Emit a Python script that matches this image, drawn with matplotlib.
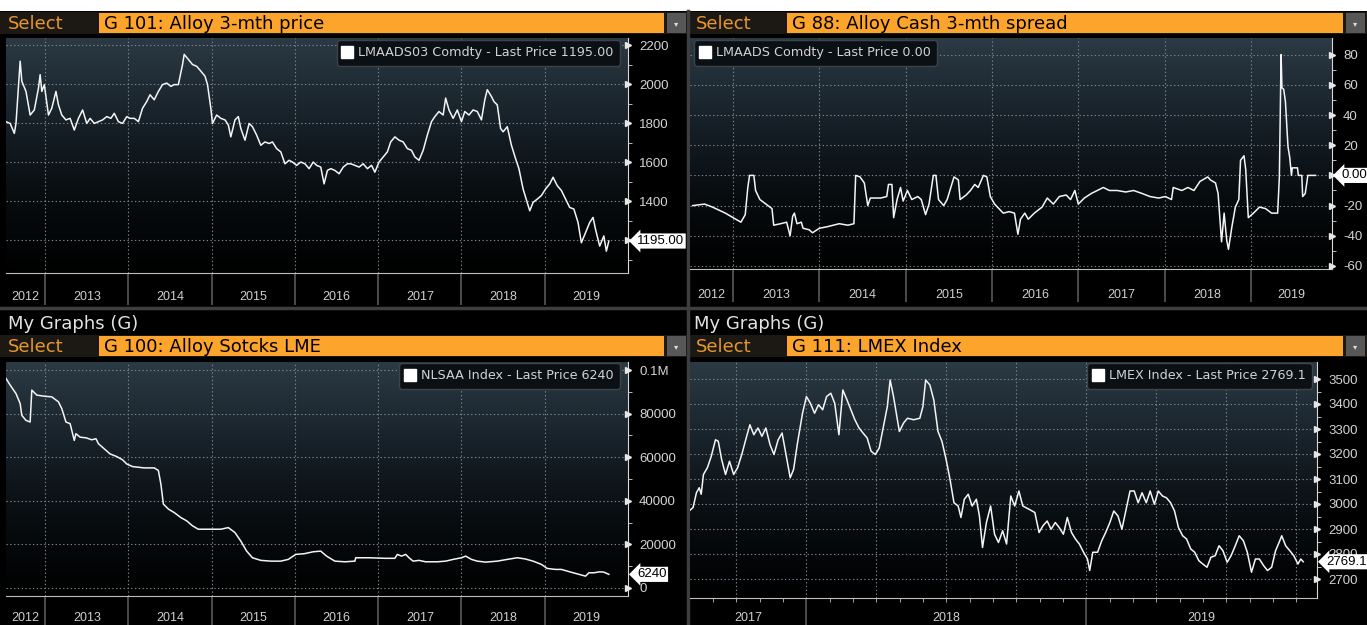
import numpy as np
import matplotlib.pyplot as plt
from matplotlib.colors import LinearSegmentedColormap
from matplotlib.lines import Line2D
from matplotlib.patches import Rectangle

# ---- G 101: Alloy 3-mth price (LMAADS03 Comdty) ----
alloy_t = [2012.53, 2012.58, 2012.63, 2012.65, 2012.70, 2012.72, 2012.77, 2012.82, 2012.87, 2012.92,
           2012.94, 2012.96, 2012.99, 2013.04, 2013.08, 2013.13, 2013.16, 2013.20, 2013.25, 2013.30,
           2013.35, 2013.40, 2013.45, 2013.50, 2013.54, 2013.59, 2013.64, 2013.69, 2013.74, 2013.79,
           2013.83, 2013.88, 2013.93, 2013.98, 2014.02, 2014.07, 2014.12, 2014.17, 2014.22, 2014.26,
           2014.31, 2014.36, 2014.41, 2014.46, 2014.51, 2014.55, 2014.60, 2014.65, 2014.67, 2014.72,
           2014.77, 2014.82, 2014.87, 2014.92, 2014.95, 2014.99, 2015.01, 2015.06, 2015.11, 2015.16,
           2015.20, 2015.23, 2015.28, 2015.32, 2015.35, 2015.40, 2015.45, 2015.49, 2015.54, 2015.59,
           2015.64, 2015.69, 2015.73, 2015.78, 2015.83, 2015.88, 2015.93, 2015.97, 2016.02, 2016.07,
           2016.12, 2016.17, 2016.22, 2016.26, 2016.31, 2016.35, 2016.39, 2016.43, 2016.48, 2016.53,
           2016.58, 2016.63, 2016.67, 2016.72, 2016.77, 2016.82, 2016.87, 2016.92, 2016.96, 2017.01,
           2017.06, 2017.11, 2017.15, 2017.20, 2017.25, 2017.30, 2017.35, 2017.40, 2017.44, 2017.49,
           2017.54, 2017.59, 2017.64, 2017.68, 2017.73, 2017.78, 2017.81, 2017.85, 2017.90, 2017.95,
           2018.00, 2018.04, 2018.09, 2018.14, 2018.19, 2018.24, 2018.28, 2018.31, 2018.36, 2018.39,
           2018.43, 2018.47, 2018.50, 2018.55, 2018.60, 2018.65, 2018.69, 2018.74, 2018.79, 2018.82,
           2018.86, 2018.91, 2018.96, 2019.01, 2019.06, 2019.10, 2019.15, 2019.20, 2019.25, 2019.30,
           2019.35, 2019.40, 2019.44, 2019.49, 2019.54, 2019.58, 2019.61, 2019.66, 2019.71, 2019.74,
           2019.77]
alloy_px = [1807, 1798, 1747, 1798, 2117, 2014, 1962, 1841, 1867, 1979,
            2048, 1962, 1997, 1841, 1876, 1962, 1893, 1841, 1816, 1824,
            1764, 1824, 1867, 1798, 1824, 1798, 1807, 1816, 1833, 1824,
            1850, 1807, 1798, 1833, 1824, 1824, 1807, 1876, 1910, 1945,
            1919, 1962, 1997, 2005, 1988, 1997, 1997, 2100, 2152, 2126,
            2100, 2091, 2066, 2040, 1997, 1876, 1798, 1841, 1824, 1816,
            1790, 1729, 1816, 1833, 1772, 1712, 1798, 1781, 1738, 1686,
            1703, 1695, 1703, 1669, 1652, 1591, 1609, 1600, 1583, 1600,
            1591, 1566, 1600, 1583, 1574, 1488, 1557, 1566, 1557, 1540,
            1574, 1591, 1591, 1583, 1574, 1591, 1566, 1583, 1548, 1600,
            1626, 1652, 1703, 1729, 1712, 1703, 1669, 1660, 1626, 1609,
            1660, 1738, 1807, 1833, 1859, 1841, 1928, 1867, 1824, 1867,
            1807, 1859, 1841, 1867, 1859, 1816, 1919, 1971, 1936, 1910,
            1893, 1772, 1755, 1781, 1686, 1617, 1566, 1462, 1393, 1350,
            1393, 1410, 1428, 1462, 1488, 1522, 1479, 1454, 1410, 1367,
            1359, 1290, 1186, 1238, 1290, 1316, 1255, 1169, 1221, 1143,
            1195]

# ---- G 88: Alloy Cash 3-mth spread (LMAADS Comdty) ----
spread_t = [2012.53, 2012.67, 2012.76, 2012.91, 2013.00, 2013.09, 2013.14, 2013.17, 2013.19, 2013.24,
            2013.26, 2013.31, 2013.38, 2013.45, 2013.47, 2013.55, 2013.62, 2013.66, 2013.69, 2013.71,
            2013.74, 2013.79, 2013.81, 2013.88, 2013.92, 2014.00, 2014.09, 2014.16, 2014.23, 2014.33,
            2014.40, 2014.42, 2014.47, 2014.52, 2014.56, 2014.59, 2014.71, 2014.78, 2014.80, 2014.84,
            2014.86, 2014.90, 2014.94, 2014.97, 2015.02, 2015.07, 2015.14, 2015.18, 2015.23, 2015.27,
            2015.32, 2015.35, 2015.38, 2015.44, 2015.48, 2015.56, 2015.61, 2015.63, 2015.70, 2015.75,
            2015.80, 2015.84, 2015.90, 2015.94, 2015.98, 2016.03, 2016.13, 2016.20, 2016.26, 2016.30,
            2016.33, 2016.38, 2016.42, 2016.49, 2016.58, 2016.64, 2016.71, 2016.78, 2016.86, 2016.91,
            2016.96, 2017.00, 2017.07, 2017.15, 2017.22, 2017.29, 2017.36, 2017.45, 2017.55, 2017.64,
            2017.74, 2017.83, 2017.93, 2018.01, 2018.08, 2018.10, 2018.20, 2018.27, 2018.34, 2018.41,
            2018.50, 2018.53, 2018.59, 2018.62, 2018.66, 2018.69, 2018.72, 2018.74, 2018.78, 2018.82,
            2018.86, 2018.88, 2018.92, 2018.94, 2018.97, 2019.03, 2019.10, 2019.17, 2019.24, 2019.31,
            2019.33, 2019.35, 2019.36, 2019.38, 2019.40, 2019.43, 2019.45, 2019.47, 2019.48, 2019.54,
            2019.55, 2019.59, 2019.60, 2019.63, 2019.66, 2019.75]
spread_v = [-20, -19, -21, -25, -28, -31, -26, -8, 0, 0,
            -10, -16, -19, -22, -33, -32, -31, -40, -27, -25,
            -32, -31, -35, -36, -38, -35, -34, -33, -32, -33,
            -32, 0, -1, -5, -20, -15, -15, -14, -6, -6,
            -28, -16, -8, -17, -10, -16, -14, -16, -26, -19,
            0, 0, -16, -20, -16, -1, -3, -16, -13, -10,
            -6, -8, 0, -1, -14, -19, -25, -24, -25, -39,
            -29, -25, -29, -25, -21, -15, -19, -14, -13, -16,
            -10, -19, -15, -12, -10, -8, -10, -10, -11, -10,
            -12, -14, -15, -14, -16, -8, -10, -8, -10, -4,
            -1, -3, -5, -12, -44, -25, -43, -49, -34, -21,
            -16, 10, 13, 4, -28, -25, -21, -22, -25, -25,
            -1, 80, 58, 57, 49, 19, 12, 0, 5, 5,
            0, 0, -14, -12, 0, 0]

# ---- G 100: Alloy stocks LME (NLSAA Index) ----
stocks_t = [2012.53, 2012.58, 2012.65, 2012.70, 2012.72, 2012.77, 2012.82, 2012.84, 2012.90, 2012.99,
            2013.08, 2013.16, 2013.20, 2013.25, 2013.30, 2013.35, 2013.37, 2013.42, 2013.49, 2013.56,
            2013.61, 2013.64, 2013.71, 2013.78, 2013.86, 2013.93, 2013.98, 2014.05, 2014.19, 2014.31,
            2014.36, 2014.39, 2014.42, 2014.48, 2014.55, 2014.63, 2014.70, 2014.77, 2014.84, 2014.96,
            2015.11, 2015.20, 2015.28, 2015.35, 2015.42, 2015.49, 2015.59, 2015.71, 2015.83, 2015.92,
            2016.01, 2016.11, 2016.22, 2016.31, 2016.38, 2016.48, 2016.60, 2016.72, 2016.73, 2016.89,
            2017.08, 2017.20, 2017.23, 2017.28, 2017.33, 2017.37, 2017.42, 2017.49, 2017.57, 2017.71,
            2017.81, 2017.90, 2018.00, 2018.05, 2018.12, 2018.19, 2018.29, 2018.43, 2018.55, 2018.67,
            2018.76, 2018.86, 2018.96, 2019.03, 2019.13, 2019.20, 2019.30, 2019.42, 2019.49, 2019.53,
            2019.59, 2019.66, 2019.71, 2019.77]
stocks_v = [96150, 93100, 89200, 84600, 79200, 76900, 76150, 90800, 88500, 88000,
            87700, 85400, 82300, 76150, 75400, 67700, 70800, 69200, 68900, 68000,
            68500, 66200, 63850, 61500, 60300, 58800, 56900, 55700, 55100, 55100,
            53900, 47700, 38500, 36200, 34600, 32300, 30800, 28500, 26950, 26950,
            26950, 27700, 25400, 21500, 16900, 13850, 12650, 12300, 12300, 13100,
            15400, 15700, 16600, 16900, 14600, 12300, 12000, 12300, 13850, 13850,
            13600, 13600, 15400, 14600, 15400, 13850, 12300, 12650, 12000, 12000,
            12300, 13100, 13850, 14600, 13100, 12300, 11850, 12300, 13100, 13850,
            13350, 12300, 10800, 8950, 8500, 8500, 7400, 6150, 5400, 6950,
            6950, 7400, 7250, 6240]

# ---- G 111: LMEX Index ----
lmex_t = [2017.581, 2017.595, 2017.607, 2017.617, 2017.624, 2017.632, 2017.646, 2017.660, 2017.675, 2017.685,
          2017.697, 2017.711, 2017.725, 2017.740, 2017.754, 2017.769, 2017.783, 2017.798, 2017.812, 2017.827,
          2017.841, 2017.855, 2017.870, 2017.884, 2017.899, 2017.913, 2017.928, 2017.942, 2017.954, 2017.968,
          2017.986, 2018.000, 2018.014, 2018.029, 2018.043, 2018.058, 2018.072, 2018.087, 2018.101, 2018.116,
          2018.130, 2018.145, 2018.159, 2018.173, 2018.188, 2018.202, 2018.217, 2018.231, 2018.246, 2018.260,
          2018.275, 2018.289, 2018.299, 2018.311, 2018.325, 2018.332, 2018.347, 2018.361, 2018.383, 2018.405,
          2018.416, 2018.426, 2018.441, 2018.455, 2018.470, 2018.484, 2018.499, 2018.513, 2018.527, 2018.542,
          2018.552, 2018.564, 2018.578, 2018.592, 2018.607, 2018.618, 2018.629, 2018.643, 2018.658, 2018.672,
          2018.686, 2018.701, 2018.715, 2018.730, 2018.744, 2018.759, 2018.773, 2018.795, 2018.816, 2018.831,
          2018.845, 2018.860, 2018.874, 2018.889, 2018.903, 2018.918, 2018.932, 2018.947, 2018.961, 2018.975,
          2018.990, 2019.004, 2019.012, 2019.023, 2019.040, 2019.055, 2019.069, 2019.084, 2019.098, 2019.113,
          2019.127, 2019.142, 2019.156, 2019.171, 2019.185, 2019.199, 2019.214, 2019.228, 2019.243, 2019.257,
          2019.272, 2019.286, 2019.301, 2019.315, 2019.329, 2019.344, 2019.358, 2019.373, 2019.387, 2019.402,
          2019.416, 2019.431, 2019.445, 2019.460, 2019.474, 2019.488, 2019.503, 2019.517, 2019.532, 2019.546,
          2019.561, 2019.575, 2019.590, 2019.604, 2019.618, 2019.633, 2019.647, 2019.662, 2019.676, 2019.691,
          2019.698, 2019.712, 2019.727, 2019.741, 2019.756, 2019.766, 2019.775]
lmex_v = [2972, 2986, 3045, 3065, 3039, 3118, 3145, 3191, 3257, 3251,
          3178, 3118, 3171, 3118, 3145, 3198, 3257, 3317, 3277, 3304,
          3271, 3304, 3237, 3198, 3257, 3284, 3191, 3105, 3138, 3244,
          3363, 3430, 3403, 3363, 3397, 3377, 3430, 3443, 3403, 3277,
          3456, 3416, 3377, 3337, 3304, 3284, 3264, 3211, 3198, 3224,
          3310, 3390, 3496, 3430, 3337, 3290, 3324, 3343, 3337, 3343,
          3390, 3496, 3476, 3416, 3290, 3251, 3178, 3098, 3005, 2992,
          2946, 3019, 3039, 2992, 3019, 2952, 2826, 2926, 2992, 2879,
          2846, 2893, 2840, 3032, 2992, 3052, 2992, 2979, 2966, 2886,
          2913, 2932, 2899, 2926, 2906, 2879, 2946, 2886, 2860, 2840,
          2807, 2780, 2734, 2807, 2807, 2853, 2886, 2926, 2972, 2952,
          2899, 2979, 3052, 3052, 3005, 3045, 3005, 3052, 2999, 3052,
          3032, 3025, 3005, 2972, 2906, 2873, 2860, 2820, 2807, 2773,
          2760, 2747, 2787, 2793, 2833, 2813, 2767, 2793, 2833, 2873,
          2853, 2807, 2727, 2780, 2780, 2754, 2734, 2747, 2813, 2853,
          2873, 2833, 2813, 2793, 2760, 2780, 2769]

W, H = 1367, 625
ORANGE = "#fca42c"
ORANGE_TXT = "#e8962e"
GRID = "#7d868c"
BG_CMAP = LinearSegmentedColormap.from_list("bbg", ["#000000", "#080d10", "#18222a", "#2b3a44"])

plt.rcParams["font.family"] = ["DejaVu Sans"]

fig = plt.figure(figsize=(W / 100, H / 100), dpi=100, facecolor="black")

bg = fig.add_axes([0, 0, 1, 1], zorder=0)
bg.set_xlim(0, W)
bg.set_ylim(H, 0)
bg.axis("off")

# white strip on top and panel separators
bg.add_patch(Rectangle((0, 0), W, 11, fc="white", ec="none"))
bg.plot([688, 688], [11, H], color="#3e3e3e", lw=2.5)
bg.plot([0, W], [308, 308], color="#3e3e3e", lw=2.5)


def header(x0, x1, y0, y1, title):
    bg.add_patch(Rectangle((x0, y0), x1 - x0, y1 - y0, fc="#1c1915", ec="none"))
    bg.text(x0 + 8, y1 - 5, "Select", color=ORANGE_TXT, fontsize=13, va="baseline")
    bg.add_patch(Rectangle((x0 + 99, y0 + 1), x1 - x0 - 123, y1 - y0 - 2, fc=ORANGE, ec="none"))
    bg.text(x0 + 104, y1 - 5, title, color="black", fontsize=13, va="baseline")
    bg.add_patch(Rectangle((x1 - 21, y0 + 1), 19, y1 - y0 - 2, fc="#575757", ec="none"))
    bg.text(x1 - 11.5, (y0 + y1) / 2 + 1, "\u25be", color="#dddddd", fontsize=6,
            ha="center", va="center")


header(0, 688, 12, 34, "G 101: Alloy 3-mth price")
header(688, W, 12, 34, "G 88: Alloy Cash 3-mth spread")
bg.text(8, 329, "My Graphs (G)", color="#e4e4e4", fontsize=13, va="baseline")
bg.text(694, 329, "My Graphs (G)", color="#e4e4e4", fontsize=13, va="baseline")
header(0, 688, 335, 357, "G 100: Alloy Sotcks LME")
header(688, W, 335, 357, "G 111: LMEX Index")


def panel(box, t, v, xlim, ylim, yticks, ylabels, yminor, gridx, seps, years,
          last_txt, legend_txt, legend_loc, legend_anchor, sep_len, lab_off, months=None):
    x0, y0, x1, y1 = box
    ax = fig.add_axes([x0 / W, 1 - y1 / H, (x1 - x0) / W, (y1 - y0) / H], zorder=2)
    ax.set_facecolor("black")
    ax.imshow(np.linspace(0, 1, 256).reshape(-1, 1), cmap=BG_CMAP, origin="lower",
              extent=[0, 1, 0, 1], transform=ax.transAxes, aspect="auto", zorder=0)
    for g in gridx:
        ax.axvline(g, color=GRID, lw=0.8, ls=(0, (1.2, 2.2)), zorder=1)
    for g in yticks:
        ax.axhline(g, color=GRID, lw=0.8, ls=(0, (1.2, 2.2)), zorder=1)
    ax.plot(t, v, color="#f4f4f4", lw=1.1, zorder=3)
    ax.set_xlim(*xlim)
    ax.set_ylim(*ylim)

    for s in ("top", "left"):
        ax.spines[s].set_visible(False)
    ax.spines["right"].set_color("#d8d8d8")
    ax.spines["bottom"].set_color("#bdbdbd")

    # right value axis with pointer ticks
    ax.yaxis.tick_right()
    ax.set_yticks(yticks)
    ax.set_yticklabels(ylabels)
    ax.set_yticks(yminor, minor=True)
    ax.tick_params(axis="y", which="major", length=0, pad=8, labelcolor="#d4d4d4",
                   labelsize=9.5)
    ax.tick_params(axis="y", which="minor", length=3, color="#d8d8d8", direction="out")
    for lab in ax.get_yticklabels():
        lab.set_family("Liberation Sans")
    ax.plot(np.ones(len(yticks)), yticks, ls="none", marker=">", ms=5, color="#e6e6e6",
            transform=ax.get_yaxis_transform(), clip_on=False, zorder=5)

    # time axis: year separators and centred year labels
    ax.set_xticks(seps)
    ax.set_xticklabels([])
    ax.tick_params(axis="x", which="major", length=sep_len, width=1.2, color="#585858",
                   direction="out")
    if months is not None:
        ax.set_xticks(months, minor=True)
        ax.tick_params(axis="x", which="minor", length=3, color="#bdbdbd", direction="out")
    for yr in years:
        c = (max(yr, xlim[0]) + min(yr + 1, xlim[1])) / 2
        ax.annotate(str(yr), xy=(c, 0), xycoords=("data", "axes fraction"),
                    xytext=(0, -lab_off), textcoords="offset points", ha="center",
                    va="center", color="#cfcfcf", fontsize=9, family="Liberation Sans")

    # last price tag
    ax.text(1 + 9 / (x1 - x0), v[-1], last_txt, transform=ax.get_yaxis_transform(),
            color="black", fontsize=9.5, family="Liberation Sans", va="center", ha="left",
            bbox=dict(boxstyle="larrow,pad=0.12", fc="white", ec="none"),
            zorder=6, clip_on=False)

    handle = Line2D([], [], ls="none", marker="s", ms=8.5, color="white")
    leg = ax.legend([handle], [legend_txt], loc=legend_loc, bbox_to_anchor=legend_anchor,
                    borderaxespad=0, frameon=True, facecolor="#0b1014", edgecolor="#3c444a",
                    framealpha=1, labelcolor="#d2d2d2", fontsize=9.2, handlelength=0.7,
                    handletextpad=0.5, borderpad=0.5, fancybox=True)
    leg.set_zorder(7)
    return ax


top_years = list(range(2012, 2020))
year_seps = list(range(2013, 2020))

panel((6, 38, 628, 273), alloy_t, alloy_px, (2012.53, 2020.0), (1031, 2236),
      [1200, 1400, 1600, 1800, 2000, 2200], ["", "1400", "1600", "1800", "2000", "2200"],
      [1100, 1300, 1500, 1700, 1900, 2100], year_seps, year_seps, top_years,
      "1195.00", "LMAADS03 Comdty - Last Price 1195.00", "upper right",
      (1 - 8 / 622, 1 - 2 / 235), 23, 17.5)

panel((690, 38, 1332, 269), spread_t, spread_v, (2012.5, 2019.94), (-62, 91),
      [-60, -40, -20, 0, 20, 40, 60, 80], ["-60", "-40", "-20", "", "20", "40", "60", "80"],
      [-50, -30, -10, 10, 30, 50, 70], year_seps, year_seps, top_years,
      "0.00", "LMAADS Comdty - Last Price 0.00", "upper left",
      (4 / 642, 1 - 2 / 231), 24, 19)

panel((6, 362, 628, 596), stocks_t, stocks_v, (2012.53, 2020.0), (-3700, 103700),
      [0, 20000, 40000, 60000, 80000, 100000], ["0", "20000", "40000", "60000", "80000", "0.1M"],
      [10000, 30000, 50000, 70000, 90000], year_seps, year_seps, top_years,
      "6240", "NLSAA Index - Last Price 6240", "upper right",
      (1 - 8 / 622, 1 - 1 / 234), 21, 16)

lmex_grid = [2017.75, 2018.0, 2018.25, 2018.5, 2018.75, 2019.0, 2019.25, 2019.5, 2019.75]
lmex_months = [2017 + k / 12 for k in range(8, 34)]
panel((690, 362, 1317, 598), lmex_t, lmex_v, (2017.584, 2019.824), (2624, 3568),
      [2700, 2800, 2900, 3000, 3100, 3200, 3300, 3400, 3500],
      ["2700", "2800", "2900", "3000", "3100", "3200", "3300", "3400", "3500"],
      [2750, 2850, 2950, 3050, 3150, 3250, 3350, 3450], lmex_grid, [2018, 2019],
      [2017, 2018, 2019], "2769.1", "LMEX Index - Last Price 2769.1", "upper right",
      (1 - 5 / 627, 1 - 1 / 236), 20, 14.5, months=lmex_months)

fig.savefig("out.png", dpi=100, facecolor="black")
